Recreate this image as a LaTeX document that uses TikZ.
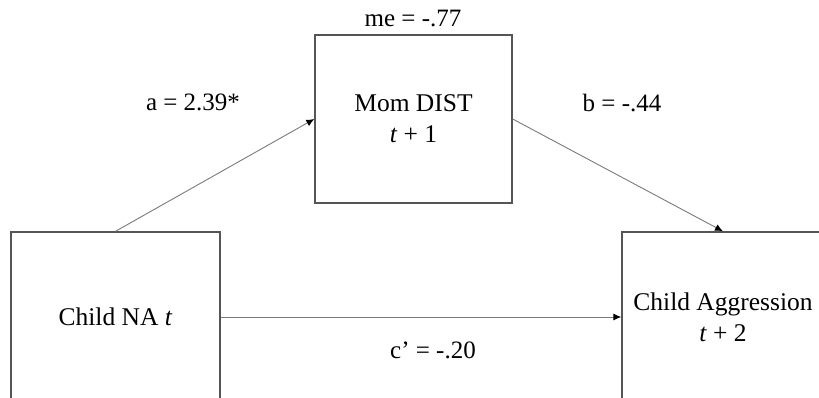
\documentclass[tikz,border=0pt]{standalone}
\usepackage{fontspec}
\setmainfont{Liberation Serif}
\usetikzlibrary{arrows.meta}
\definecolor{boxgray}{HTML}{555555}
\definecolor{arrgray}{HTML}{7A7A7A}
\begin{document}
\begin{tikzpicture}[x=1pt,y=-1pt,
  varbox/.style={draw=boxgray,line width=1.4pt,rectangle,inner sep=0pt,align=center,
    font=\fontsize{25.5}{31}\selectfont},
  path/.style={draw=arrgray,line width=0.9pt,-{Latex[length=8pt,width=7pt,color=black]}},
  coef/.style={font=\fontsize{25}{30}\selectfont,inner sep=0pt}]
\useasboundingbox (0,0) rectangle (819,398);
\node[varbox,minimum width=209pt,minimum height=170pt] (na) at (115.5,317) {Child NA \textit{t}};
\node[varbox,minimum width=197pt,minimum height=168pt] (mom) at (413.5,119) {Mom DIST\\\textit{t} + 1};
\node[varbox,minimum width=202pt,minimum height=170pt] (agg) at (723,317) {Child Aggression\\\textit{t} + 2};
\draw[path] (na.north) -- (mom.west);
\draw[path] (mom.east) -- (agg.north);
\draw[path] (na.east) -- (agg.west);
\node[coef] (me) at (413,18) {me = -.77};
\node[coef] (a) at (193,102) {a = 2.39*};
\node[coef] (b) at (622,103) {b = -.44};
\node[coef] (c) at (433,350) {c’ = -.20};
\end{tikzpicture}
\end{document}
